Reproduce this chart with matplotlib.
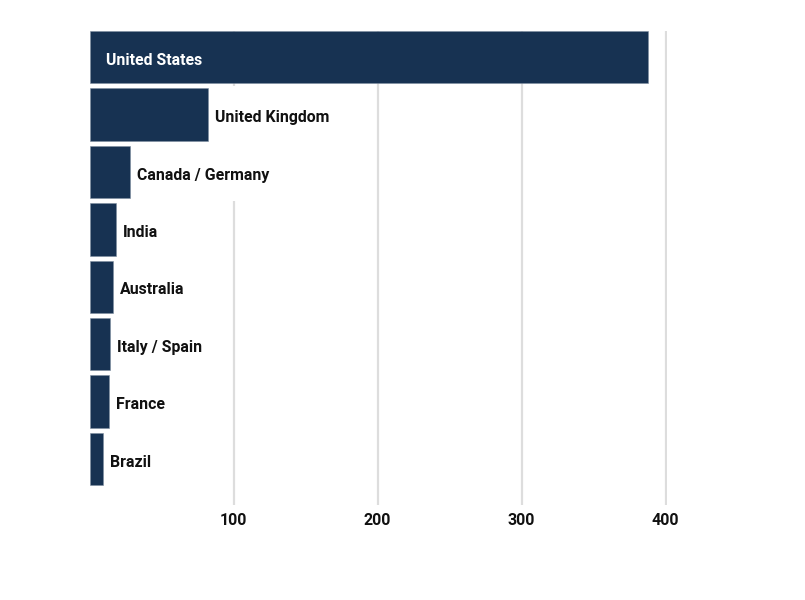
import matplotlib
matplotlib.use("Agg")
import matplotlib.pyplot as plt

countries = ["United States", "United Kingdom", "Canada / Germany", "India",
             "Australia", "Italy / Spain", "France", "Brazil"]
values = [387.5, 82, 28.2, 18.3, 16.2, 14.1, 13.2, 9.2]
tick_values = [100, 200, 300, 400]
tick_labels = ["100", "200", "300", "400"]

plt.rcParams['font.family'] = ['Roboto', 'DejaVu Sans']

BAR = "#173252"
fig = plt.figure(figsize=(8.05, 6.0), dpi=100)
ax = fig.add_axes([89.7/805, 1-505/600, (667.1-89.7)/805, (505-31)/600])

ypos = list(range(len(countries)))
h = 52.5/57.4
ax.barh(ypos, values, height=h, color=BAR, edgecolor="#7f8ea0", linewidth=0.4, zorder=2)

ax.set_xlim(0, 401)
ax.set_ylim(-0.457 + 474/57.4, -0.457)

ax.set_xticks(tick_values)
ax.set_xticklabels(tick_labels, fontsize=11.5, fontweight='bold', color='#111111')
ax.tick_params(axis='x', length=0, pad=6)
ax.set_yticks([])
for s in ax.spines.values():
    s.set_visible(False)
for t in tick_values:
    ax.axvline(t, color='#dddddd', linewidth=1.6, zorder=0)

FS = 11.4
for i, (c, v) in enumerate(zip(countries, values)):
    if i == 0:
        ax.annotate(c, (0, i), xytext=(16*0.72, -2.2), textcoords='offset points',
                    va='center', ha='left', color='white', fontsize=FS,
                    fontweight='bold', zorder=4)
    else:
        # white backing box hidden behind bars, masking gridlines
        ax.annotate(c, (v, i), xytext=(7*0.72, 0), textcoords='offset points',
                    va='center', ha='left', color='white', alpha=0, fontsize=FS,
                    fontweight='bold', zorder=1,
                    bbox=dict(boxstyle='square,pad=1.34', fc='white', ec='none'))
        ax.annotate(c, (v, i), xytext=(7*0.72, -2.2), textcoords='offset points',
                    va='center', ha='left', color='#111111', fontsize=FS,
                    fontweight='bold', zorder=4)

fig.savefig("out.png", dpi=100, facecolor='white')
